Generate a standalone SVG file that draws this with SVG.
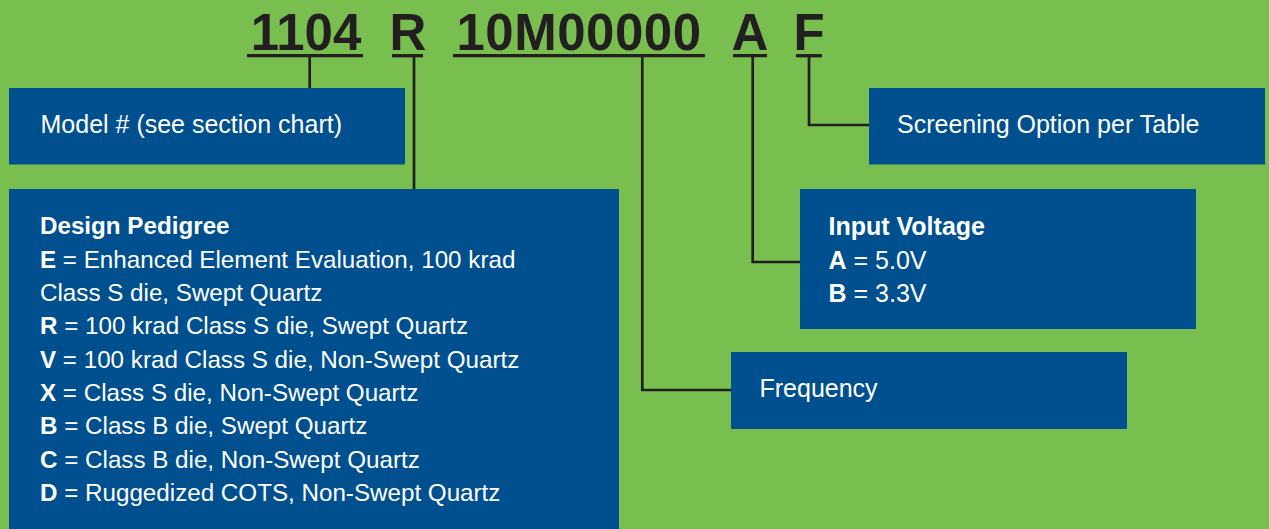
<svg xmlns="http://www.w3.org/2000/svg" width="1269" height="529" viewBox="0 0 1269 529">
<style>
.bg{fill:#79bf4f}
.box{fill:#00508f}
.t{font-family:"Liberation Sans",Arial,sans-serif;font-size:25px;fill:#ffffff}
.s{font-size:24.2px}
.b{font-weight:bold}
.code{font-family:"Liberation Sans",Arial,sans-serif;font-size:51px;font-weight:bold;fill:#231f20;text-anchor:middle}
.ul{stroke:#231f20;stroke-width:3.3;fill:none}
.conn{stroke:#231f20;stroke-width:2.7;fill:none}
</style>
<rect class="bg" x="0" y="0" width="1269" height="529"/>
<g id="code">
<text class="code" x="306" y="50">1104</text>
<text class="code" x="408" y="50">R</text>
<text class="code" x="579" y="50" letter-spacing="0.5">10M00000</text>
<text class="code" x="750" y="50">A</text>
<text class="code" x="809" y="50">F</text>
<line class="ul" x1="247" y1="55.7" x2="363" y2="55.7"/>
<line class="ul" x1="392" y1="55.7" x2="423" y2="55.7"/>
<line class="ul" x1="453" y1="55.7" x2="705" y2="55.7"/>
<line class="ul" x1="733" y1="55.7" x2="767" y2="55.7"/>
<line class="ul" x1="796" y1="55.7" x2="822" y2="55.7"/>
</g>
<g id="connectors">
<path class="conn" d="M309.7 57V88"/>
<path class="conn" d="M414 57V189"/>
<path class="conn" d="M642.3 57V390H731"/>
<path class="conn" d="M752.7 57V262H800"/>
<path class="conn" d="M809 57V125H869"/>
</g>
<g id="model">
<rect class="box" x="9" y="88" width="396" height="76.5"/>
<text class="t" x="40.5" y="133">Model # (see section chart)</text>
</g>
<g id="pedigree">
<rect class="box" x="9" y="189" width="610" height="345"/>
<text class="t s b" x="40" y="234">Design Pedigree</text>
<text class="t s" x="40" y="267.5"><tspan class="b">E</tspan> = Enhanced Element Evaluation, 100 krad</text>
<text class="t s" x="40" y="301">Class S die, Swept Quartz</text>
<text class="t s" x="40" y="334.3"><tspan class="b">R</tspan> = 100 krad Class S die, Swept Quartz</text>
<text class="t s" x="40" y="367.6"><tspan class="b">V</tspan> = 100 krad Class S die, Non-Swept Quartz</text>
<text class="t s" x="40" y="400.9"><tspan class="b">X</tspan> = Class S die, Non-Swept Quartz</text>
<text class="t s" x="40" y="434.2"><tspan class="b">B</tspan> = Class B die, Swept Quartz</text>
<text class="t s" x="40" y="467.5"><tspan class="b">C</tspan> = Class B die, Non-Swept Quartz</text>
<text class="t s" x="40" y="500.8"><tspan class="b">D</tspan> = Ruggedized COTS, Non-Swept Quartz</text>
</g>
<g id="screening">
<rect class="box" x="869" y="88" width="396" height="76.5"/>
<text class="t" x="897" y="132.5">Screening Option per Table</text>
</g>
<g id="voltage">
<rect class="box" x="800" y="189" width="396" height="140"/>
<text class="t b" x="828.5" y="235">Input Voltage</text>
<text class="t" x="828.5" y="268.5"><tspan class="b">A</tspan> = 5.0V</text>
<text class="t" x="828.5" y="302"><tspan class="b">B</tspan> = 3.3V</text>
</g>
<g id="frequency">
<rect class="box" x="731" y="352" width="396" height="77"/>
<text class="t" x="759.5" y="397">Frequency</text>
</g>
</svg>
